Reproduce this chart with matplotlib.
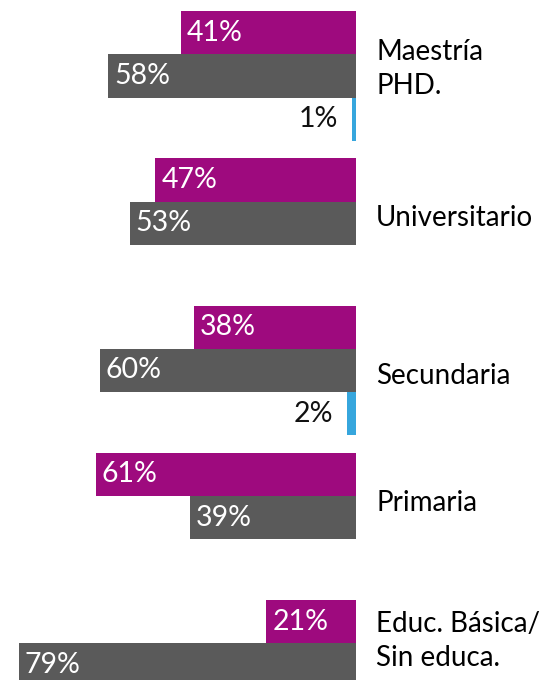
import matplotlib
matplotlib.use("Agg")
import matplotlib.pyplot as plt

categories = ["Maestría\nPHD.", "Universitario", "Secundaria", "Primaria", "Educ. Básica/\nSin educa."]
purple_vals = [41, 47, 38, 61, 21]
gray_vals = [58, 53, 60, 39, 79]
blue_vals = [1, 0, 2, 0, 0]

purple = "#9E0A7E"
gray = "#5A5A5A"
blue = "#36A6DD"

# vertical nudge of the category text boxes (in bar slots)
label_shift = [-0.16, -0.12, 0.12, -0.35, -0.55]

fig = plt.figure(figsize=(5.46, 6.80), dpi=100)
ax = fig.add_axes([0, 0, 1, 1])

# one slot per bar, 3.4 slots per category (gap of 0.4)
centers = [1.754 + 3.4 * i for i in range(len(categories))]
h = 1.0

for i, c in enumerate(centers):
    ax.barh(c - 1, purple_vals[i], height=h, color=purple)
    ax.barh(c, gray_vals[i], height=h, color=gray)
    if blue_vals[i] > 0:
        ax.barh(c + 1, blue_vals[i], height=h, color=blue)

    for y, v in [(c - 1, purple_vals[i]), (c, gray_vals[i])]:
        ax.annotate(f"{v}%", (v, y), xytext=(6, 0), textcoords="offset pixels",
                    ha="left", va="center", color="white", fontsize=20.5,
                    family="Lato")
    if blue_vals[i] > 0:
        ax.annotate(f"{blue_vals[i]}%", (blue_vals[i], c + 1), xytext=(-14, 0),
                    textcoords="offset pixels", ha="right", va="center",
                    color="#111111", fontsize=20.5, family="Lato")

    ax.text(-4.7, c + label_shift[i], categories[i], ha="left", va="center",
            fontsize=20, family="Lato", color="black", linespacing=1.38)

ax.set_xlim(83.4, -44.5)
ax.set_ylim(15.70, 0)
ax.axis("off")

fig.savefig("out.png", dpi=100)
